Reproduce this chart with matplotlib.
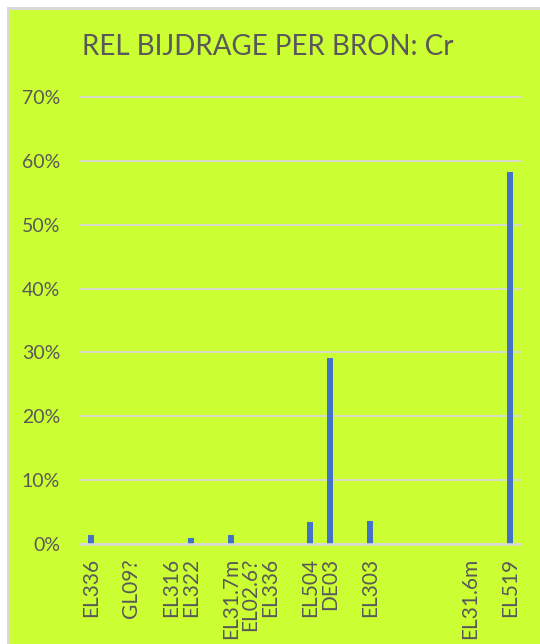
import matplotlib
matplotlib.use("Agg")
import matplotlib.pyplot as plt
from matplotlib.patches import Rectangle
from matplotlib.ticker import FuncFormatter, MultipleLocator

categories = ["EL336", "", "GL09?", "", "EL316", "EL322", "", "EL31.7m", "EL02.6?", "EL336",
              "", "EL504", "DE03", "", "EL303", "", "", "", "", "EL31.6m", "", "EL519"]
values = [0.0145, 0, 0, 0, 0, 0.009, 0, 0.0145, 0, 0,
          0, 0.034, 0.292, 0, 0.036, 0, 0, 0, 0, 0, 0, 0.582]
title = "REL BIJDRAGE PER BRON: Cr"

plt.rcParams['font.family'] = ['Lato', 'DejaVu Sans']
W, H = 540, 644
fig = plt.figure(figsize=(W / 100, H / 100), dpi=100, facecolor='white')
bg = '#ccff33'
fig.patches.append(Rectangle((7.5 / W, -0.05), 1.1, (H - 7.5) / H + 0.05,
                             transform=fig.transFigure, facecolor=bg,
                             edgecolor='#d9d9d9', linewidth=2.2, zorder=-5))

ax = fig.add_axes([81 / W, (H - 544) / H, (520 - 81) / W, (544 - 97) / H])
ax.set_zorder(2)
ax.set_facecolor('none')
x = list(range(len(categories)))
ax.bar(x, values, width=0.3, color='#4472c4', zorder=3)
ax.set_xlim(-0.5, len(categories) - 0.5)
ax.set_ylim(0, 0.7)
ax.yaxis.set_major_locator(MultipleLocator(0.1))
ax.yaxis.set_major_formatter(FuncFormatter(lambda v, p: f"{v*100:.0f}%"))
ax.grid(axis='y', color='#d9d9d9', linewidth=1.3, zorder=1)
for gl in ax.get_ygridlines():
    gl.set_clip_on(False)
ax.set_axisbelow(True)
for s in ['top', 'right', 'left']:
    ax.spines[s].set_visible(False)
ax.spines['bottom'].set_color('#d9d9d9')
ax.spines['bottom'].set_linewidth(1.8)
ax.spines['bottom'].set_zorder(4)
ax.set_xticks(x)
ax.set_xticklabels(categories, rotation=90, va='top', ha='center')
ax.tick_params(axis='x', length=0, pad=10, labelsize=15, labelcolor='#595959')
ax.tick_params(axis='y', length=0, pad=15, labelsize=14, labelcolor='#595959')

fig.text(268 / W, 1 - 47 / H, title, ha='center', va='center', fontsize=20, color='#595959')

fig.savefig('out.png', dpi=100, facecolor='white')
